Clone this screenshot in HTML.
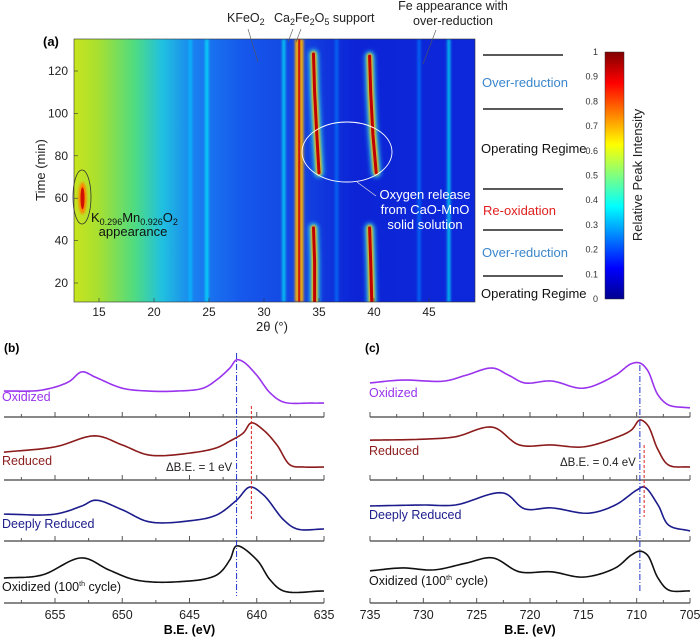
<!DOCTYPE html>
<html><head><meta charset="utf-8"><style>
body{margin:0;background:#fff}
svg{display:block;font-family:"Liberation Sans",sans-serif}
</style></head><body>
<svg id="fig" width="700" height="638" viewBox="0 0 700 638">
<defs>
<linearGradient id="bg" x1="0" x2="1" y1="0" y2="0">
<stop offset="0" stop-color="#c8e41e"/><stop offset="0.06" stop-color="#a8e030"/><stop offset="0.15" stop-color="#50dc80"/>
<stop offset="0.22" stop-color="#20c0e0"/><stop offset="0.3" stop-color="#1a80f0"/><stop offset="0.42" stop-color="#1658ec"/>
<stop offset="0.58" stop-color="#1240e0"/><stop offset="0.7" stop-color="#0c24d6"/><stop offset="1" stop-color="#0c28da"/>
</linearGradient>
<linearGradient id="jet" x1="0" x2="0" y1="1" y2="0">
<stop offset="0" stop-color="#00008f"/><stop offset="0.125" stop-color="#0000ff"/><stop offset="0.375" stop-color="#00ffff"/>
<stop offset="0.625" stop-color="#ffff00"/><stop offset="0.875" stop-color="#ff0000"/><stop offset="1" stop-color="#800000"/>
</linearGradient>
<clipPath id="hmclip"><rect x="74" y="39" width="401" height="263"/></clipPath>
<filter id="blur1" filterUnits="userSpaceOnUse" x="0" y="0" width="700" height="400"><feGaussianBlur stdDeviation="1.2"/></filter>
<filter id="blur2" filterUnits="userSpaceOnUse" x="0" y="0" width="700" height="400"><feGaussianBlur stdDeviation="2.5"/></filter>
</defs>
<g id="heat" clip-path="url(#hmclip)">
<rect x="74" y="39" width="401" height="263" fill="url(#bg)"/>
</g>
<rect x="74" y="39" width="401" height="263" fill="none" stroke="#333" stroke-width="0.6"/>
<g id="hmaxes" font-size="12" fill="#222"></g>
<text x="20" y="20" font-size="13" font-weight="bold" fill="#000" transform="translate(23,26)">(a)</text>
<text x="0" y="0" transform="translate(45,170) rotate(-90)" text-anchor="middle" font-size="13" fill="#222">Time (min)</text>
<text x="272" y="331" text-anchor="middle" font-size="13" fill="#222">2θ (°)</text>
<g font-size="12.5" fill="#222">
<text x="227" y="22">KFeO<tspan font-size="9" dy="3">2</tspan></text>
<text x="274" y="22">Ca<tspan font-size="9" dy="3">2</tspan><tspan dy="-3">Fe</tspan><tspan font-size="9" dy="3">2</tspan><tspan dy="-3">O</tspan><tspan font-size="9" dy="3">5</tspan><tspan dy="-3"> support</tspan></text>
<text x="453" y="10" text-anchor="middle">Fe appearance with</text>
<text x="453" y="25" text-anchor="middle">over-reduction</text>
<line x1="248" y1="29" x2="258" y2="62" stroke="#555" stroke-width="0.6"/>
<line x1="293" y1="29" x2="288" y2="42" stroke="#555" stroke-width="0.6"/>
<line x1="301" y1="29" x2="296" y2="42" stroke="#555" stroke-width="0.6"/>
<line x1="436" y1="30" x2="423" y2="64" stroke="#555" stroke-width="0.6"/>
<ellipse cx="82" cy="197" rx="9" ry="27" fill="none" stroke="#333" stroke-width="0.8"/>
<text x="91" y="222" font-size="13" fill="#111">K<tspan font-size="9" dy="3">0.296</tspan><tspan dy="-3">Mn</tspan><tspan font-size="9" dy="3">0.926</tspan><tspan dy="-3">O</tspan><tspan font-size="9" dy="3">2</tspan></text>
<text x="133" y="236" font-size="13" fill="#111" text-anchor="middle">appearance</text>
<ellipse cx="347" cy="152" rx="45" ry="30" fill="none" stroke="#fff" stroke-width="0.9"/>
<line x1="357" y1="182" x2="376" y2="196" stroke="#ddd" stroke-width="0.7"/>
<text x="425" y="199" font-size="13" fill="#fff" text-anchor="middle">Oxygen release</text>
<text x="425" y="214" font-size="13" fill="#fff" text-anchor="middle">from CaO-MnO</text>
<text x="425" y="229" font-size="13" fill="#fff" text-anchor="middle">solid solution</text>
</g>
<g font-size="13">
<line x1="483" y1="55" x2="563" y2="55" stroke="#222" stroke-width="1.6"/>
<text x="482" y="87" fill="#3a86cc">Over-reduction</text>
<line x1="483" y1="109" x2="563" y2="109" stroke="#222" stroke-width="1.6"/>
<text x="481" y="153" fill="#111">Operating Regime</text>
<line x1="483" y1="189" x2="563" y2="189" stroke="#222" stroke-width="1.6"/>
<text x="483" y="215" fill="#e02020">Re-oxidation</text>
<line x1="483" y1="230" x2="563" y2="230" stroke="#222" stroke-width="1.6"/>
<text x="482" y="257" fill="#3a86cc">Over-reduction</text>
<line x1="483" y1="276" x2="563" y2="276" stroke="#222" stroke-width="1.6"/>
<text x="481" y="298" fill="#111">Operating Regime</text>
</g>
<rect x="605" y="52" width="19" height="247" fill="url(#jet)" stroke="#333" stroke-width="0.5"/>
<g id="cbticks" font-size="9" fill="#333" text-anchor="end"></g>
<text transform="translate(642,175) rotate(-90)" text-anchor="middle" font-size="13" fill="#222">Relative Peak Intensity</text>
<g id="xps"></g>
<text x="4" y="352" font-size="12" font-weight="bold">(b)</text>
<text x="365" y="352" font-size="12" font-weight="bold">(c)</text>
</svg>
<script>
// ===== heatmap data =====
const hmTimeTicks = [20, 40, 60, 80, 100, 120];
const hmThetaTicks = [15, 20, 25, 30, 35, 40, 45];
const faintLines = [23.3, 24.8, 31.8, 36.6, 44.1, 46.8];
const faintIntensity = [0.32, 0.38, 0.38, 0.25, 0.25, 0.38];
const caLines = [33.0, 33.4];
const peakA_time = [128, 110, 90, 72];
const peakA_theta = [34.5, 34.6, 34.8, 35.0];
const peakA2_time = [46, 30, 10];
const peakA2_theta = [34.5, 34.6, 34.6];
const peakB_time = [127, 110, 90, 72];
const peakB_theta = [39.6, 39.7, 39.9, 40.2];
const peakB2_time = [46, 30, 10];
const peakB2_theta = [39.6, 39.7, 39.8];
const kmnTime = [60];
const kmnTheta = [13.5];
const cbTicks = [0, 0.1, 0.2, 0.3, 0.4, 0.5, 0.6, 0.7, 0.8, 0.9, 1];

const NS = "http://www.w3.org/2000/svg";
const X = t => 99 + (t - 15) * 11;
const Y = m => 283 - (m - 20) * 2.12;
function mk(tag, attrs, parent){const e=document.createElementNS(NS,tag);for(const k in attrs)e.setAttribute(k,attrs[k]);parent.appendChild(e);return e;}
function jet(v){const r=Math.max(0,Math.min(1,1.5-Math.abs(4*v-3))),g=Math.max(0,Math.min(1,1.5-Math.abs(4*v-2))),b=Math.max(0,Math.min(1,1.5-Math.abs(4*v-1)));return `rgb(${Math.round(r*255)},${Math.round(g*255)},${Math.round(b*255)})`;}

const heat = document.getElementById('heat');
faintLines.forEach((t,i)=>{
  const l = mk('rect',{x:X(t)-1.5,y:39,width:3,height:263,fill:jet(faintIntensity[i]),opacity:0.75,filter:'url(#blur1)'},heat);
  
  
});
caLines.forEach((t,i)=>{
  const g = mk('rect',{x:X(t)-2,y:39,width:4,height:263,fill:'#ffb000',filter:'url(#blur1)'},heat);
  
  
});
const cl = mk('rect',{x:X(33.2)-1,y:39,width:2,height:263,fill:'#d01808'},heat);


function trace(times, thetas, name){
  const pts = times.map((m,i)=>X(thetas[i])+','+Y(m)).join(' ');
  const g1 = mk('polyline',{points:pts,fill:'none',stroke:'#30e0e0',['stroke-width']:9,['stroke-linecap']:'round',filter:'url(#blur2)'},heat);
  
  
  const g2 = mk('polyline',{points:pts,fill:'none',stroke:'#ffb000',['stroke-width']:5.5,['stroke-linecap']:'round',filter:'url(#blur1)'},heat);
  
  
  const g3 = mk('polyline',{points:pts,fill:'none',stroke:'#c00000',['stroke-width']:3,['stroke-linecap']:'round'},heat);
  
  
}
trace(peakA_time, peakA_theta, 'peak-34-upper');
trace(peakA2_time, peakA2_theta, 'peak-34-lower');
trace(peakB_time, peakB_theta, 'peak-40-upper');
trace(peakB2_time, peakB2_theta, 'peak-40-lower');
kmnTime.forEach((m,i)=>{
  const e1 = mk('ellipse',{cx:X(kmnTheta[i]),cy:Y(m),rx:4,ry:16,fill:'#ff8000',filter:'url(#blur1)'},heat);
  
  
  const e2 = mk('ellipse',{cx:X(kmnTheta[i]),cy:Y(m),rx:2,ry:11,fill:'#d01000'},heat);
  
  
});
const ax = document.getElementById('hmaxes');
hmTimeTicks.forEach(m=>{
  const t = mk('text',{x:68,y:Y(m)+4,['text-anchor']:'end'},ax); t.textContent=m;
  
  
  mk('line',{x1:74,x2:78,y1:Y(m),y2:Y(m),stroke:'#333',['stroke-width']:0.6},ax);
});
hmThetaTicks.forEach(t=>{
  const e = mk('text',{x:X(t),y:316,['text-anchor']:'middle'},ax); e.textContent=t;
  
  
  mk('line',{x1:X(t),x2:X(t),y1:302,y2:298,stroke:'#333',['stroke-width']:0.6},ax);
});
const cbg = document.getElementById('cbticks');
cbTicks.forEach(v=>{
  const e = mk('text',{x:598,y:299-v*247+3},cbg); e.textContent=v;
  
  
});

// ===== XPS data =====
const mnBE_ox = [658.8,656,654,653,652,650,648,646,644,643,642,641.5,641,640,639,638,636,635];
const mnI_ox  = [0.29,0.31,0.48,0.69,0.58,0.35,0.29,0.29,0.35,0.52,0.77,0.94,0.9,0.62,0.25,0.06,0.04,0.04];
const mnBE_red = [658.8,655,652,650,648,645,643,642,641,640.4,639.5,638.5,637.5,636.5,635];
const mnI_red  = [0.33,0.44,0.67,0.48,0.27,0.31,0.42,0.56,0.73,0.94,0.79,0.48,0.06,0.02,0.02];
const mnBE_deep = [658.8,655,653,652,650,648,645,643,641.5,640.5,639.5,638,637,635];
const mnI_deep  = [0.31,0.31,0.48,0.6,0.4,0.15,0.17,0.29,0.6,0.875,0.71,0.19,0,0];
const mnBE_ox100 = [658.8,656,653,651,649,646,643,642,641.5,640,639,638,635];
const mnI_ox100  = [0.27,0.33,0.69,0.44,0.23,0.19,0.33,0.65,0.94,0.65,0.23,0,0];
const feBE_ox = [735,732,728,726,723.5,722,720.5,718,715,712,710.5,709.7,709,708,707,705];
const feI_ox  = [0.46,0.52,0.5,0.62,0.77,0.62,0.46,0.5,0.35,0.62,0.86,0.875,0.73,0.21,0,-0.06];
const feBE_red = [735,730,727,723.5,721,718,715,712,710.5,709.7,709,708,707,705];
const feI_red  = [0.58,0.6,0.65,0.85,0.48,0.48,0.44,0.63,0.79,1.0,0.9,0.38,0.06,0.02];
const feBE_deep = [735,730,727,722.5,720.5,718,714.5,712,710,709.3,708,707,705];
const feI_deep  = [0.48,0.5,0.5,0.75,0.42,0.44,0.33,0.5,0.81,0.875,0.5,0.08,-0.04];
const feBE_ox100 = [735,732,729,726,723.5,721,718,715,712,710.5,709.7,709,708,707,705];
const feI_ox100  = [0.42,0.48,0.44,0.58,0.69,0.4,0.4,0.29,0.48,0.75,0.83,0.75,0.27,0.02,0];
const bTicks = [655,650,645,640,635];
const cTicks = [735,730,725,720,715,710,705];
const mnRef = [641.5, 640.4];
const feRef = [709.7, 709.3];

const baselines = [417,480,541,603];
const colors = ['#9933ee','#8c1c1c','#1c1c8c','#111'];
const names = ['oxidized','reduced','deeply-reduced','oxidized-100th'];
const labels = ['Oxidized','Reduced','Deeply Reduced','Oxidized (100'];
const xb = v => 55 + (655 - v) * 13.45;
const xc = v => 370 + (735 - v) * 10.667;
const yv = (row, v) => baselines[row] - 12 - v * 48;
const xps = document.getElementById('xps');
// centripetal Catmull-Rom, sampled as polyline
function crPath(P){
  const n=P.length, out=[P[0]];
  const ext=[[2*P[0][0]-P[1][0],2*P[0][1]-P[1][1]],...P,[2*P[n-1][0]-P[n-2][0],2*P[n-1][1]-P[n-2][1]]];
  const dist=(a,b)=>Math.pow(Math.hypot(b[0]-a[0],b[1]-a[1]),0.5)||1e-4;
  for(let i=1;i<ext.length-2;i++){
    const p0=ext[i-1],p1=ext[i],p2=ext[i+1],p3=ext[i+2];
    const t0=0,t1=t0+dist(p0,p1),t2=t1+dist(p1,p2),t3=t2+dist(p2,p3);
    for(let s=1;s<=12;s++){
      const t=t1+(t2-t1)*s/12;
      const L=(a,b,ta,tb)=>[a[0]*(tb-t)/(tb-ta)+b[0]*(t-ta)/(tb-ta),a[1]*(tb-t)/(tb-ta)+b[1]*(t-ta)/(tb-ta)];
      const A1=L(p0,p1,t0,t1),A2=L(p1,p2,t1,t2),A3=L(p2,p3,t2,t3);
      const B1=L(A1,A2,t0,t2),B2=L(A2,A3,t1,t3);
      out.push(L(B1,B2,t1,t2));
    }
  }
  return 'M'+out.map(p=>p[0].toFixed(2)+','+p[1].toFixed(2)).join(' L');
}
function curve(BE, I, row, xf, name){
  const pts=BE.map((b,i)=>[xf(b),yv(row,I[i])]).sort((a,b)=>a[0]-b[0]);
  const p = mk('path',{d:crPath(pts),fill:'none',stroke:colors[row],['stroke-width']:1.6,['stroke-linejoin']:'round'},xps);
  
  
}
const mnSets=[[mnBE_ox,mnI_ox],[mnBE_red,mnI_red],[mnBE_deep,mnI_deep],[mnBE_ox100,mnI_ox100]];
const feSets=[[feBE_ox,feI_ox],[feBE_red,feI_red],[feBE_deep,feI_deep],[feBE_ox100,feI_ox100]];
function axisRow(x0,x1,y,ticks,xf){
  const l=mk('line',{x1:x0,x2:x1,y1:y,y2:y,stroke:'#777',['stroke-width']:1.8},xps);
  
  
  const lo=Math.min(...ticks),hi=Math.max(...ticks);
  for(let v=lo-5;v<=hi+5;v+=2.5){const x=xf(v); if(x<x0-0.5||x>x1+0.5)continue;
    mk('line',{x1:x,x2:x,y1:y,y2:y-(Math.abs(v%5)<0.01?5:3),stroke:'#555',['stroke-width']:1},xps);}
}
for(let r=0;r<4;r++){
  axisRow(4,324,baselines[r],bTicks,xb);
  axisRow(370,690,baselines[r],cTicks,xc);
  curve(mnSets[r][0],mnSets[r][1],r,xb,'mn-'+names[r]+'-curve');
  curve(feSets[r][0],feSets[r][1],r,xc,'fe-'+names[r]+'-curve');
}
const lbY=[401,465,528,591], lcY=[397,455,519,585];
for(let r=0;r<4;r++){
  [[2,lbY[r]],[369,lcY[r]]].forEach(([x,y],k)=>{
    const t=mk('text',{x:x,y:y,fill:colors[r],['font-size']:12.5},xps);
    t.textContent=labels[r];
    if(r===3){const s=mk('tspan',{['font-size']:7,dy:-5},t);s.textContent='th';const s2=mk('tspan',{dy:5},t);s2.textContent=' cycle)';}
    
    
  });
}
bTicks.forEach(v=>{const t=mk('text',{x:xb(v),y:619,['text-anchor']:'middle',['font-size']:12.5,fill:'#222'},xps);t.textContent=v;
  
  });
cTicks.forEach(v=>{const t=mk('text',{x:xc(v),y:619,['text-anchor']:'middle',['font-size']:12.5,fill:'#222'},xps);t.textContent=v;
  
  });
[[xb(645),'b'],[xc(720),'c']].forEach(([x,k])=>{const t=mk('text',{x:x,y:634,['text-anchor']:'middle',['font-size']:12.5,['font-weight']:'bold'},xps);t.textContent='B.E. (eV)';
  
  });
const r1=mk('line',{x1:xb(mnRef[0]),x2:xb(mnRef[0]),y1:353,y2:596,stroke:'#2233cc',['stroke-width']:1,['stroke-dasharray']:'6,2,1,2'},xps);


const r2=mk('line',{x1:xb(mnRef[1]),x2:xb(mnRef[1]),y1:406,y2:520,stroke:'#dd2222',['stroke-width']:1,['stroke-dasharray']:'3,2'},xps);


const r3=mk('line',{x1:xc(feRef[0]),x2:xc(feRef[0]),y1:365,y2:592,stroke:'#2233cc',['stroke-width']:1,['stroke-dasharray']:'6,2,1,2'},xps);


const r4=mk('line',{x1:xc(feRef[1]),x2:xc(feRef[1]),y1:445,y2:517,stroke:'#dd2222',['stroke-width']:1,['stroke-dasharray']:'3,2'},xps);


const d1=mk('text',{x:166,y:471,['font-size']:11.5,fill:'#222'},xps);d1.textContent='ΔB.E. = 1 eV';


const d2=mk('text',{x:560,y:466,['font-size']:11.5,fill:'#222'},xps);d2.textContent='ΔB.E. = 0.4 eV';


</script>
</body></html>
